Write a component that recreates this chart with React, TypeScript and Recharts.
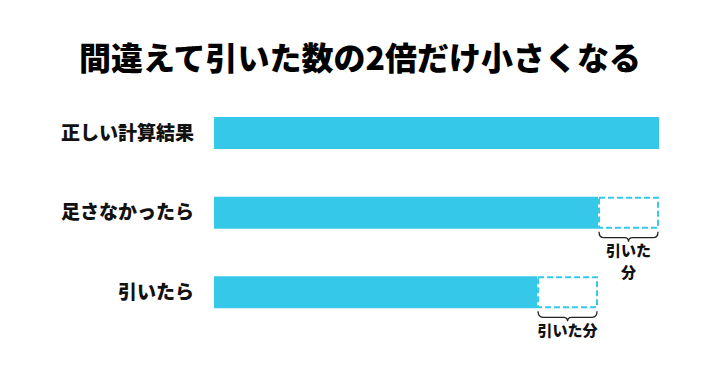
import React from "react";
import { BarChart, Bar, XAxis, YAxis } from "recharts";

const categories = ["正しい計算結果", "足さなかったら", "引いたら"];
const baseValues = [100, 86.3, 72.6];
const gapValues = [0, 13.7, 13.7];
const braceLabels: string[][] = [[], ["引いた", "分"], ["引いた分"]];
const title = "間違えて引いた数の2倍だけ小さくなる";

const data = categories.map((name, i) => ({
  name,
  base: baseValues[i],
  gap: gapValues[i],
  brace: braceLabels[i],
}));

const BLUE = "#35C8E8";
const FONT = '"Noto Sans CJK JP", "Noto Sans", sans-serif';

const GapShape = (props: any) => {
  const { x, y, width, height, index } = props;
  if (!width || width <= 0) return null;
  const lines: string[] = braceLabels[index] || [];
  const bottom = y + height;
  const cx = x + width / 2;
  const l = x + 1;
  const r = x + width - 1;
  const by = bottom + 9;
  const path = `M ${l} ${bottom + 3} Q ${l} ${by} ${l + 5} ${by} L ${cx - 4} ${by} Q ${cx} ${by} ${cx} ${by + 4} Q ${cx} ${by} ${cx + 4} ${by} L ${r - 5} ${by} Q ${r} ${by} ${r} ${bottom + 3}`;
  return (
    <g>
      <rect
        x={x + 1}
        y={y + 1}
        width={width - 2}
        height={height - 2}
        fill="#fff"
        stroke={BLUE}
        strokeWidth={2}
        strokeDasharray="6 3"
      />
      <path d={path} fill="none" stroke="#222" strokeWidth={1.3} />
      {lines.map((t, k) => (
        <text
          key={k}
          x={cx}
          y={bottom + 21 + k * 22}
          textAnchor="middle"
          dominantBaseline="central"
          fontFamily={FONT}
          fontWeight={900}
          fontSize={15}
          fill="#111"
        >
          {t}
        </text>
      ))}
    </g>
  );
};

export default function App() {
  return (
    <div
      style={{
        position: "absolute",
        left: 0,
        top: 0,
        width: 720,
        height: 377,
        background: "#fff",
        overflow: "hidden",
      }}
    >
      <div
        style={{
          position: "absolute",
          left: 0,
          top: 40,
          width: 720,
          textAlign: "center",
          fontFamily: FONT,
          fontWeight: 900,
          fontSize: 32,
          lineHeight: "32px",
          color: "#000",
          whiteSpace: "nowrap",
        }}
      >
        {title}
      </div>
      <div style={{ position: "absolute", left: 0, top: 0 }}>
        <BarChart
          width={720}
          height={377}
          data={data}
          layout="vertical"
          margin={{ top: 93, right: 61, bottom: 45, left: 0 }}
          barSize={32}
        >
          <XAxis type="number" domain={[0, 100]} hide />
          <YAxis
            type="category"
            dataKey="name"
            width={214}
            axisLine={false}
            tickLine={false}
            tickSize={0}
            tickMargin={20}
            tick={{ fontFamily: FONT, fontWeight: 900, fontSize: 19, fill: "#111" }}
          />
          <Bar dataKey="base" stackId="a" fill={BLUE} isAnimationActive={false} />
          <Bar dataKey="gap" stackId="a" shape={GapShape} isAnimationActive={false} />
        </BarChart>
      </div>
    </div>
  );
}
